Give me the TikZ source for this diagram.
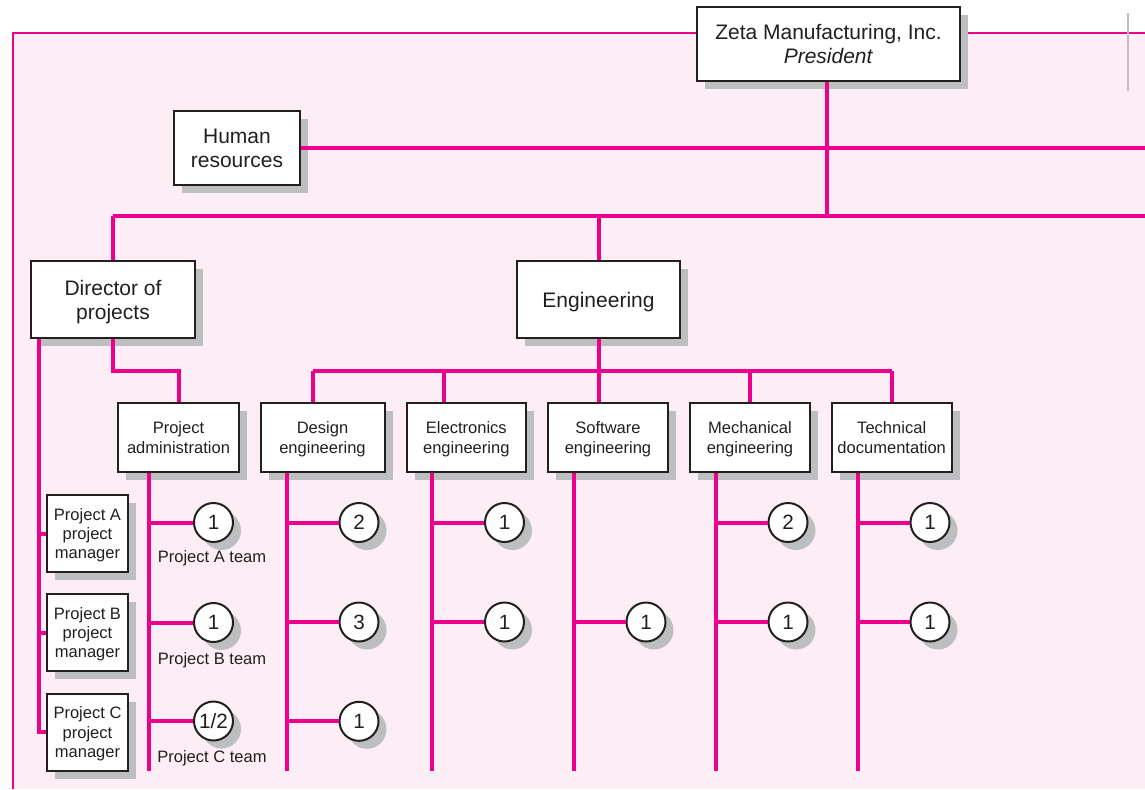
\documentclass[tikz,border=0pt]{standalone}
\usepackage{fontspec}
\setmainfont{Liberation Sans}
\usetikzlibrary{shadows,backgrounds}
\definecolor{mag}{RGB}{236,0,140}
\definecolor{bgpink}{RGB}{253,237,245}
\definecolor{ink}{RGB}{35,31,32}
\definecolor{shd}{RGB}{188,190,192}
\definecolor{edgegray}{RGB}{192,192,194}
\begin{document}
\begin{tikzpicture}[x=0.75pt,y=-0.75pt,
  conn/.style={draw=mag,line width=3pt},
  frameline/.style={draw=mag,line width=2.2pt},
  orgbox/.style={draw=ink,line width=1.5pt,fill=white,inner sep=0pt,align=center,text=ink,text depth=0pt,
    drop shadow={shadow xshift=6pt,shadow yshift=-6pt,fill=shd,opacity=1}},
  bigbox/.style={orgbox,font=\fontsize{15.75}{18}\selectfont},
  smallbox/.style={orgbox,font=\fontsize{12.4}{14.6}\selectfont},
  count/.style={circle,draw=ink,line width=1.5pt,fill=white,inner sep=0pt,minimum size=29.25pt,
    text=ink,font=\fontsize{15.5}{15.5}\selectfont,
    drop shadow={shadow xshift=6pt,shadow yshift=-6pt,fill=shd,opacity=1}},
  teamlabel/.style={text=ink,font=\fontsize{12.4}{14.6}\selectfont,inner sep=0pt}
]
\useasboundingbox (0,0) rectangle (1145,789);

% frame
\fill[bgpink] (13,33) rectangle (1145,789);
\draw[frameline] (13,789) -- (13,33) -- (1145,33);
\draw[edgegray,line width=1.5pt] (1128,13) -- (1128,91);

% boxes
\node[bigbox,minimum width=197.25pt,minimum height=55.5pt] (pres) at (828.5,44)
  {Zeta Manufacturing, Inc.\\\textit{President}};
\node[bigbox,minimum width=94.5pt,minimum height=55.5pt] (hr) at (237,148) {Human\\resources};
\node[bigbox,minimum width=123pt,minimum height=57.75pt] (dir) at (113,299.5) {Director of\\projects};
\node[bigbox,minimum width=122.25pt,minimum height=57.75pt] (eng) at (598.5,299.5) {Engineering};

\node[smallbox,minimum width=90.75pt,minimum height=51.75pt] (admin) at (178.5,437.5) {Project\\administration};
\node[smallbox,minimum width=93pt,minimum height=51.75pt] (design) at (322.5,437.5) {Design\\engineering};
\node[smallbox,minimum width=89.5pt,minimum height=51.75pt] (elec) at (466.3,437.5) {Electronics\\engineering};
\node[smallbox,minimum width=90pt,minimum height=51.75pt] (soft) at (608,437.5) {Software\\engineering};
\node[smallbox,minimum width=90pt,minimum height=51.75pt] (mech) at (750,437.5) {Mechanical\\engineering};
\node[smallbox,minimum width=90pt,minimum height=51.75pt] (tech) at (891.7,437.5) {Technical\\documentation};

\node[smallbox,minimum width=60.75pt,minimum height=57.75pt] (pmA) at (87.5,533.5) {Project A\\project\\manager};
\node[smallbox,minimum width=60.75pt,minimum height=57.75pt] (pmB) at (87.5,632.5) {Project B\\project\\manager};
\node[smallbox,minimum width=60.75pt,minimum height=57.75pt] (pmC) at (87.5,732) {Project C\\project\\manager};

% counts
\node[count] (a1) at (213.5,522.5) {1};
\node[count] (a2) at (213.5,622.5) {1};
\node[count] (a3) at (213.5,721) {1/2};
\node[count] (d1) at (359,522.5) {2};
\node[count] (d2) at (359,622) {3};
\node[count] (d3) at (359,721.3) {1};
\node[count] (e1) at (504.5,522.5) {1};
\node[count] (e2) at (504.5,622) {1};
\node[count] (s1) at (646,622) {1};
\node[count] (m1) at (788,522.5) {2};
\node[count] (m2) at (788,622) {1};
\node[count] (t1) at (930,522.5) {1};
\node[count] (t2) at (930,622) {1};

\node[teamlabel] (lA) at (212,558.5) {Project A team};
\node[teamlabel] (lB) at (212,660.5) {Project B team};
\node[teamlabel] (lC) at (212,758) {Project C team};

% bus coordinates
\coordinate (topbusL) at (113,216);
\coordinate (topbusR) at (1145,216);
\coordinate (hrR) at (1145,148);
\coordinate (engbus) at (598.5,371);
\coordinate (busD) at (312.5,371);
\coordinate (busE) at (444,371);
\coordinate (busM) at (750,371);
\coordinate (busT) at (891.7,371);
\coordinate (endAdm) at (149,770.5);
\coordinate (endD) at (286.5,770.5);
\coordinate (endE) at (432,770.5);
\coordinate (endS) at (573.5,770.5);
\coordinate (endM) at (715.7,770.5);
\coordinate (endT) at (857.5,770.5);

% connectors
\draw[conn] (pres.south -| 826.7,0) -- (826.7,216);
\draw[conn] (hr.east) -- (hrR);
\draw[conn] (topbusL) -- (topbusR);
\draw[conn] (topbusL) -- (dir.north);
\draw[conn] (eng.north |- topbusL) -- (eng.north);
\draw[conn] (dir.south) -- ++(0,32) -| (admin.north);
\draw[conn] ([xshift=7.1pt]dir.south west) |- (pmC.west);
\draw[conn] (pmA.west) -- ++(-7.5,0);
\draw[conn] (pmB.west) -- ++(-7.5,0);

\draw[conn] (eng.south) -- (engbus);
\draw[conn] (busD) -- (busT);
\draw[conn] (busD) -- (busD |- design.north);
\draw[conn] (busE) -- (busE |- elec.north);
\draw[conn] (engbus) -- (engbus |- soft.north);
\draw[conn] (busM) -- (busM |- mech.north);
\draw[conn] (busT) -- (busT |- tech.north);

\draw[conn] (endAdm |- admin.south) -- (endAdm);
\draw[conn] (endD |- design.south) -- (endD);
\draw[conn] (endE |- elec.south) -- (endE);
\draw[conn] (endS |- soft.south) -- (endS);
\draw[conn] (endM |- mech.south) -- (endM);
\draw[conn] (endT |- tech.south) -- (endT);

\foreach \c/\e in {a1/endAdm,a2/endAdm,a3/endAdm,d1/endD,d2/endD,d3/endD,e1/endE,e2/endE,s1/endS,m1/endM,m2/endM,t1/endT,t2/endT}
  \draw[conn] (\c.west) -- (\c.west -| \e);
\end{tikzpicture}
\end{document}
